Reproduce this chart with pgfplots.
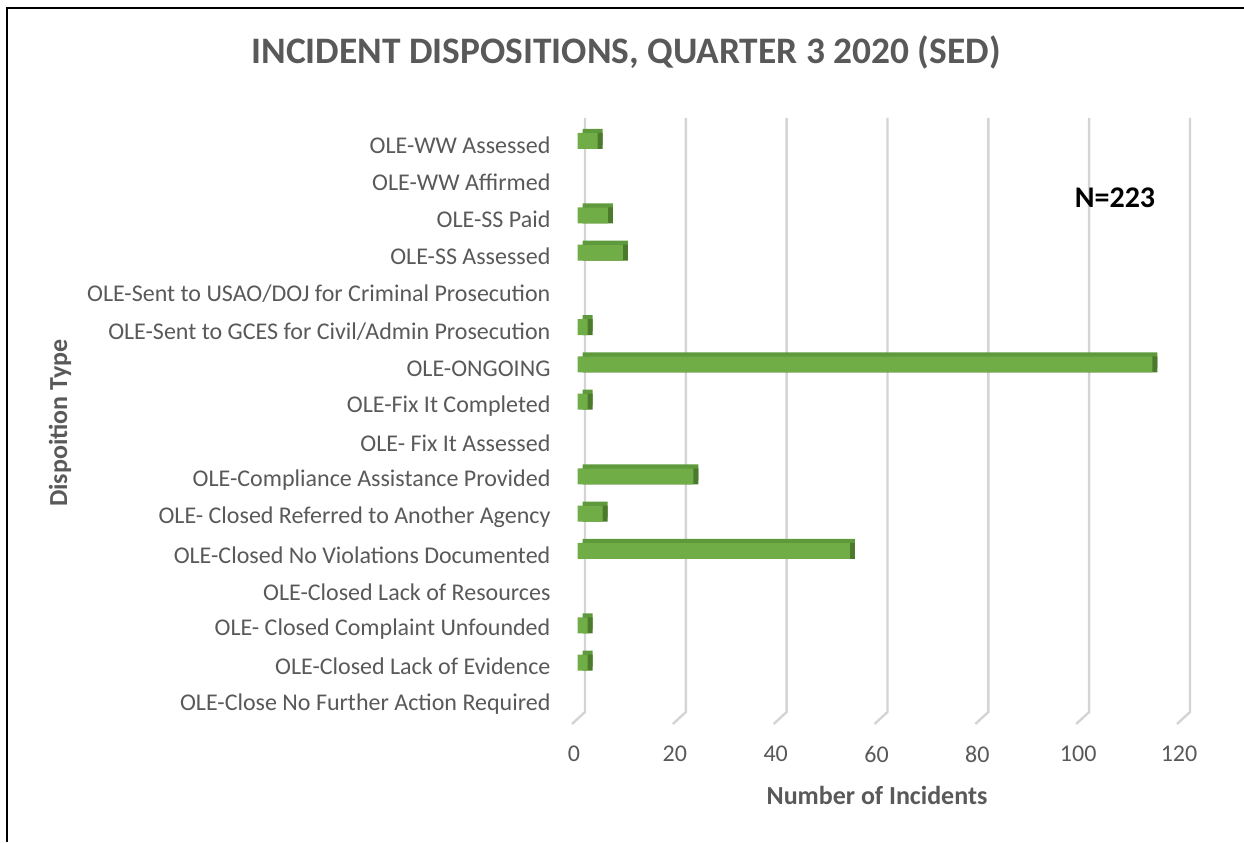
\documentclass[border=0pt]{standalone}
\usepackage{fontspec}
\setmainfont{Carlito}
\usepackage{pgfplots}
\pgfplotsset{compat=1.18}
\definecolor{txtgray}{HTML}{595959}
\definecolor{gridc}{HTML}{D4D4D4}
\definecolor{barc}{HTML}{70AD47}
\definecolor{bartop}{HTML}{5E9A3B}
\definecolor{barside}{HTML}{4B7A2C}

\pgfplotstableread{
idx val
0 0
1 2
2 2
3 0
4 54
5 5
6 23
7 0
8 2
9 114
10 2
11 0
12 9
13 6
14 0
15 4
}\disptable

\pgfplotsset{
    base/.style={
        anchor=south west,
        scale only axis, width=302.5pt, height=303pt,
        clip=false,
        xmin=0, xmax=120, ymin=-0.54, ymax=15.72,
        axis line style={draw=none},
        major tick length=0pt,
    },
    bare/.style={base, xtick=\empty, ytick=\empty},
    barstyle/.style={xbar, bar width=8pt, bar shift=2pt, draw=none,
        restrict x to domain=0.5:200},
}

\begin{document}
\begin{tikzpicture}
\path[use as bounding box] (0,0) rectangle (622pt,421pt);
\draw[line width=1.1pt] (3.5pt,0) -- (3.5pt,417pt) -- (622pt,417pt);

% axis with labels and 3D grid
\begin{axis}[
    base, at={(288.75pt,59pt)},
    xtick={0,20,...,120},
    ytick={0,...,15},
    yticklabels={
        OLE-Close No Further Action Required,
        OLE-Closed Lack of Evidence,
        OLE- Closed Complaint Unfounded,
        OLE-Closed Lack of Resources,
        OLE-Closed No Violations Documented,
        OLE- Closed Referred to Another Agency,
        OLE-Compliance Assistance Provided,
        OLE- Fix It Assessed,
        OLE-Fix It Completed,
        OLE-ONGOING,
        OLE-Sent to GCES for Civil/Admin Prosecution,
        OLE-Sent to USAO/DOJ for Criminal Prosecution,
        OLE-SS Assessed,
        OLE-SS Paid,
        OLE-WW Affirmed,
        OLE-WW Assessed},
    /pgf/number format/assume math mode=true,
    tick label style={font=\fontsize{12}{14}\selectfont, text=txtgray},
    xticklabel style={xshift=-1.75pt, yshift=-7.5pt},
    yticklabel style={xshift=-10pt},
]
\pgfplotsinvokeforeach{0,20,40,60,80,100,120}{
  \draw[gridc, line width=1.2pt]
    ([xshift=3.75pt]axis cs:#1,15.72) --
    ([xshift=3.75pt, yshift=6pt]axis cs:#1,-0.54) --
    ([xshift=-2.75pt]axis cs:#1,-0.54);
}
\end{axis}

% top faces of the bars
\begin{axis}[bare, at={(291.25pt,61pt)}]
\addplot[barstyle, fill=bartop] table[x=val, y=idx] {\disptable};
\end{axis}

% right faces of the bars
\begin{axis}[bare, at={(291.25pt,59pt)}]
\addplot[barstyle, fill=barside] table[x=val, y=idx] {\disptable};
\end{axis}

% front faces
\begin{axis}[bare, at={(288.75pt,59pt)}]
\addplot[barstyle, fill=barc] table[x=val, y=idx] {\disptable};
\end{axis}

\node[font=\fontsize{18.7}{22}\selectfont\bfseries, text=txtgray] at (313pt,395pt)
    {INCIDENT DISPOSITIONS, QUARTER 3 2020 (SED)};
\node[font=\fontsize{13}{15}\selectfont\bfseries, text=txtgray, rotate=90] at (30pt,209.5pt)
    {Dispoition Type};
\node[font=\fontsize{13}{15}\selectfont\bfseries, text=txtgray] at (438.5pt,23.5pt)
    {Number of Incidents};
\node[font=\fontsize{15}{17}\selectfont\bfseries, text=black] at (557.5pt,322pt)
    {N=223};
\end{tikzpicture}
\end{document}
